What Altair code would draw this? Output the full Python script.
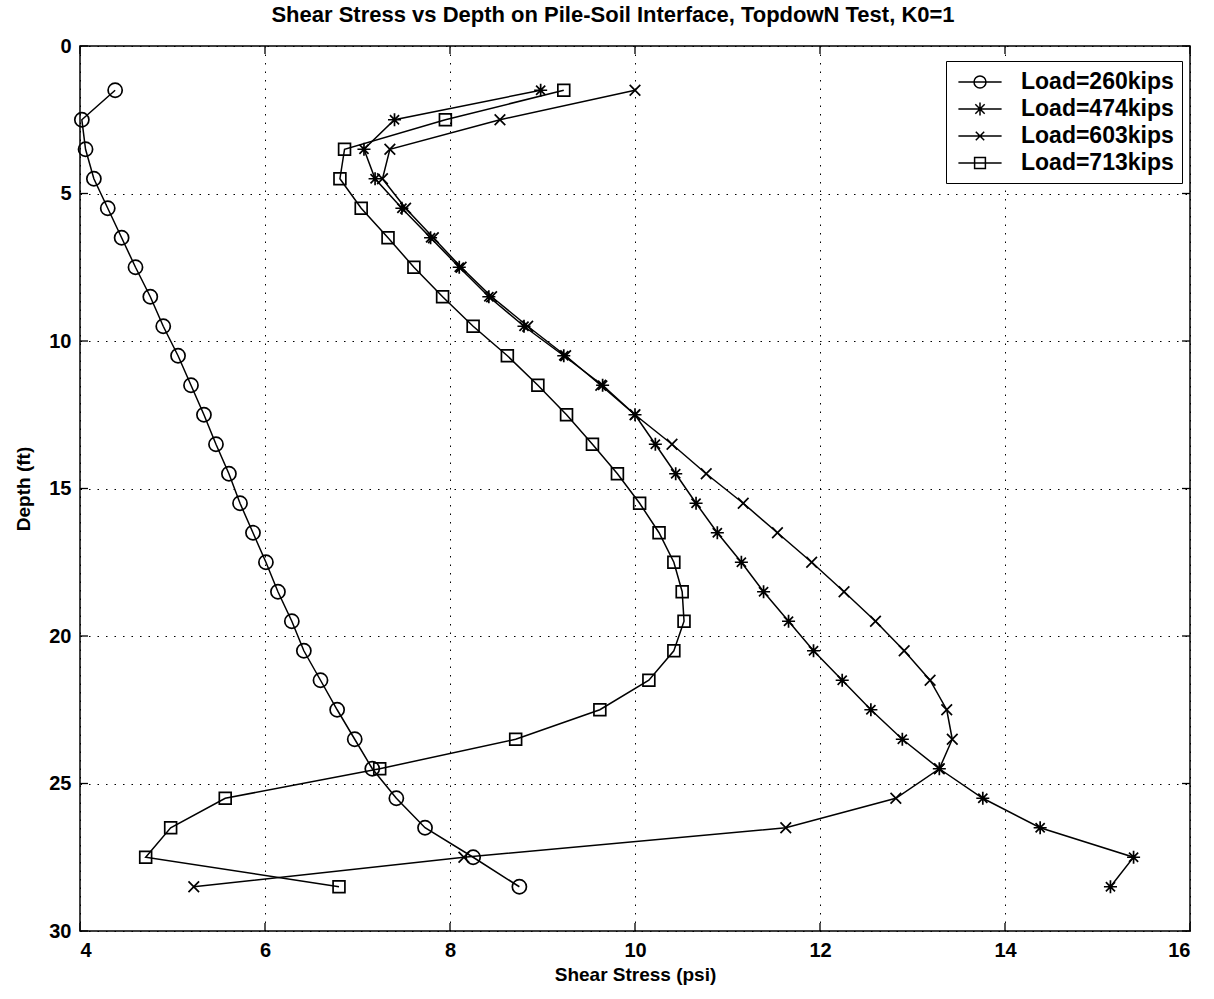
import altair as alt
import pandas as pd

# ---- data ----
depth = [1.5, 2.5, 3.5, 4.5, 5.5, 6.5, 7.5, 8.5, 9.5, 10.5, 11.5, 12.5, 13.5, 14.5,
         15.5, 16.5, 17.5, 18.5, 19.5, 20.5, 21.5, 22.5, 23.5, 24.5, 25.5, 26.5, 27.5, 28.5]

load260 = [4.38, 4.02, 4.06, 4.15, 4.30, 4.45, 4.60, 4.76, 4.90, 5.06, 5.20, 5.34, 5.47, 5.61,
           5.73, 5.87, 6.01, 6.14, 6.29, 6.42, 6.60, 6.78, 6.97, 7.16, 7.42, 7.73, 8.25, 8.75]
load474 = [8.98, 7.40, 7.07, 7.19, 7.48, 7.79, 8.10, 8.42, 8.80, 9.23, 9.65, 10.00, 10.22, 10.44,
           10.66, 10.89, 11.15, 11.39, 11.66, 11.93, 12.24, 12.55, 12.89, 13.29, 13.76, 14.38, 15.39, 15.14]
load603 = [10.00, 8.54, 7.35, 7.27, 7.52, 7.82, 8.12, 8.45, 8.84, 9.25, 9.63, 10.00, 10.40, 10.77,
           11.17, 11.54, 11.91, 12.26, 12.60, 12.91, 13.19, 13.37, 13.43, 13.29, 12.82, 11.63, 8.15, 5.23]
load713 = [9.23, 7.95, 6.86, 6.81, 7.04, 7.33, 7.61, 7.92, 8.25, 8.62, 8.95, 9.26, 9.54, 9.81,
           10.05, 10.26, 10.42, 10.51, 10.53, 10.42, 10.15, 9.62, 8.71, 7.24, 5.57, 4.98, 4.71, 6.80]

series_names = ["Load=260kips", "Load=474kips", "Load=603kips", "Load=713kips"]
x_ticks = [4, 6, 8, 10, 12, 14, 16]
y_ticks = [0, 5, 10, 15, 20, 25, 30]

title_text = "Shear Stress vs Depth on Pile-Soil Interface, TopdowN Test, K0=1"
x_title = "Shear Stress (psi)"
y_title = "Depth (ft)"

# ---- build tables ----
rows = []
for name, vals in zip(series_names, [load260, load474, load603, load713]):
    for d, v in zip(depth, vals):
        rows.append({"series": name, "depth": d, "stress": v})
df = pd.DataFrame(rows)
xt_df = pd.DataFrame({"stress": x_ticks})
yt_df = pd.DataFrame({"depth": y_ticks})

FONT = "Liberation Sans"
W, H = 1110, 885
TICK = 8

# marker shapes (stroke only)
star_path = "M0,-1L0,1M-1,0L1,0M-0.7,-0.7L0.7,0.7M-0.7,0.7L0.7,-0.7"
x_path = "M-0.7,-0.7L0.7,0.7M-0.7,0.7L0.7,-0.7"
marker_shapes = ["circle", star_path, x_path, "square"]
marker_sizes = [200, 170, 230, 140]

# legend symbols: line through marker
leg_circle = "M-1.8,0L1.8,0M-0.5,0A0.5,0.5,0,1,1,0.5,0A0.5,0.5,0,1,1,-0.5,0"
leg_star = "M-1.8,0L1.8,0M0,-0.55L0,0.55M-0.55,0L0.55,0M-0.39,-0.39L0.39,0.39M-0.39,0.39L0.39,-0.39"
leg_x = "M-1.8,0L1.8,0M-0.35,-0.35L0.35,0.35M-0.35,0.35L0.35,-0.35"
leg_square = "M-1.8,0L1.8,0M-0.45,-0.45L0.45,-0.45L0.45,0.45L-0.45,0.45Z"
legend_shapes = [leg_circle, leg_star, leg_x, leg_square]

x_scale = alt.Scale(domain=[4, 16], nice=False, zero=False)
y_scale = alt.Scale(domain=[0, 30], reverse=True, nice=False, zero=False)

x_enc = alt.X("stress:Q", scale=x_scale,
              axis=alt.Axis(values=x_ticks, title=x_title, format="d"))
y_enc = alt.Y("depth:Q", scale=y_scale,
              axis=alt.Axis(values=y_ticks, title=y_title, format="d"))

base = alt.Chart(df)

lines = base.mark_line(color="black", strokeWidth=1.5).encode(
    x=x_enc, y=y_enc, detail="series:N", order="depth:Q"
)

point_layers = []
for name, shp, sz in zip(series_names, marker_shapes, marker_sizes):
    point_layers.append(
        base.transform_filter(alt.datum.series == name)
        .mark_point(shape=shp, size=sz, filled=False, color="black", strokeWidth=1.7, opacity=1)
        .encode(x=x_enc, y=y_enc)
    )

legend_layer = base.mark_point(opacity=0, filled=False, color="black").encode(
    x=x_enc,
    y=y_enc,
    shape=alt.Shape(
        "series:N",
        scale=alt.Scale(domain=series_names, range=legend_shapes),
        legend=alt.Legend(
            orient="none",
            legendX=866,
            legendY=15,
            title=None,
            strokeColor="black",
            fillColor="white",
            padding=8,
            labelFont=FONT,
            labelFontWeight="bold",
            labelFontSize=23,
            labelColor="black",
            labelOffset=28,
            symbolOffset=13,
            symbolSize=576,
            symbolStrokeColor="black",
            symbolStrokeWidth=1.5,
            symbolFillColor="transparent",
            symbolOpacity=1,
            rowPadding=2,
        ),
    ),
)

# inward tick marks (MATLAB style) on all four sides
tick_style = dict(color="black", strokeWidth=1.3)
ticks_bottom = alt.Chart(xt_df).mark_rule(**tick_style).encode(
    x=x_enc, y=alt.value(H), y2=alt.value(H - TICK))
ticks_top = alt.Chart(xt_df).mark_rule(**tick_style).encode(
    x=x_enc, y=alt.value(0), y2=alt.value(TICK))
ticks_left = alt.Chart(yt_df).mark_rule(**tick_style).encode(
    y=y_enc, x=alt.value(0), x2=alt.value(TICK))
ticks_right = alt.Chart(yt_df).mark_rule(**tick_style).encode(
    y=y_enc, x=alt.value(W), x2=alt.value(W - TICK))

chart = (
    alt.layer(lines, *point_layers, legend_layer,
              ticks_bottom, ticks_top, ticks_left, ticks_right)
    .properties(
        width=W,
        height=H,
        background="white",
        title=alt.TitleParams(
            text=title_text,
            font=FONT,
            fontSize=22,
            fontWeight="bold",
            color="black",
            anchor="middle",
            dx=-22,
            offset=9,
        ),
        autosize=alt.AutoSizeParams(type="none"),
        padding={"left": 80, "top": 46, "right": 24, "bottom": 68},
    )
    .configure_view(stroke="black", strokeWidth=1.5)
    .configure_axis(
        labelFont=FONT,
        labelFontWeight="bold",
        labelFontSize=20,
        labelColor="black",
        titleFont=FONT,
        titleFontWeight="bold",
        titleFontSize=19,
        titleColor="black",
        domain=False,
        ticks=False,
        grid=True,
        gridColor="black",
        gridDash=[1.5, 7],
        gridWidth=1,
        gridOpacity=1,
    )
    .configure_axisX(labelPadding=9, titlePadding=5)
    .configure_axisY(labelPadding=9, titlePadding=15)
)

chart.save("out.html", embed_options={"renderer": "svg", "actions": False})
